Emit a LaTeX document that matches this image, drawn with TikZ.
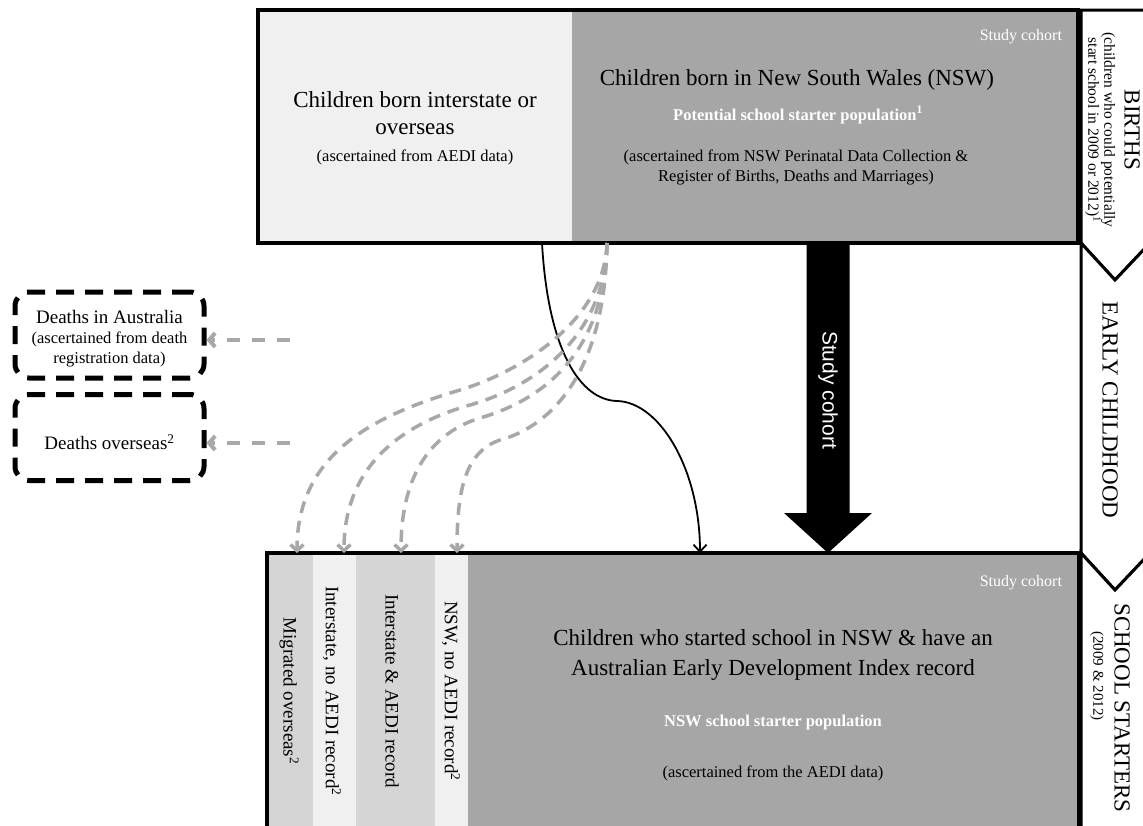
\documentclass[tikz,border=0pt]{standalone}
\usepackage{fontspec}
\setmainfont{Liberation Serif}
\newfontfamily\sansfam{Liberation Sans}
\usetikzlibrary{arrows.meta,calc}
\newcommand{\fsz}[2]{\fontsize{#1}{#2}\selectfont}
\definecolor{lightfill}{HTML}{F0F0F0}
\definecolor{darkfill}{HTML}{A6A6A6}
\definecolor{midfill}{HTML}{D5D5D5}
\definecolor{arrowgray}{HTML}{A8A8A8}
\begin{document}
\begin{tikzpicture}[x=1pt,y=-1pt,
  region/.style={draw=none, inner sep=0pt, outer sep=0pt, anchor=north west},
  frame/.style={draw=black, line width=4pt},
  panel/.style={draw=black, line width=3pt, fill=white, line join=miter},
  txt/.style={inner sep=0pt, outer sep=0pt, align=center, text=black},
  wtxt/.style={inner sep=0pt, outer sep=0pt, align=center, text=white},
  deathbox/.style={draw=black, fill=white, line width=5pt, dash pattern=on 18pt off 11pt, rounded corners=14pt, inner sep=0pt, minimum width=189pt, minimum height=86pt},
  blackconn/.style={draw=black, line width=1.8pt, -{Straight Barb[length=7pt,width=13pt]}},
  grayconn/.style={draw=arrowgray, line width=3.5pt, dash pattern=on 12pt off 8pt, -{Straight Barb[length=6pt,width=13pt]}},
  grayhconn/.style={draw=arrowgray, line width=4pt, dash pattern=on 13pt off 12pt, -{Straight Barb[length=6pt,width=14pt]}},
  rot/.style={rotate=-90}
]
\clip (0,0) rectangle (1143,825);

% right-hand stage panels
\path[panel] (1081,10) -- (1150,10) -- (1150,243) -- (1115,280) -- (1081,243) -- cycle;
\path[panel] (1081,243) -- (1115,280) -- (1150,243) -- (1150,553) -- (1115,590) -- (1081,553) -- cycle;
\path[panel] (1081,553) -- (1115,590) -- (1150,553) -- (1150,830) -- (1081,830) -- cycle;
\node[txt, rot, font={\fsz{23}{26}}] (lblBirths) at (1132,130) {BIRTHS};
\node[txt, rot, font={\fsz{15.5}{16}}] (lblBirthsSub) at (1100,130) {(children who could potentially\\start school in 2009 or 2012)\textsuperscript{1}};
\node[txt, rot, font={\fsz{23}{26}}] (lblEarly) at (1110,410) {EARLY CHILDHOOD};
\node[txt, rot, font={\fsz{23}{26}}] (lblSchool) at (1122,708) {SCHOOL STARTERS};
\node[txt, rot, font={\fsz{15}{17}}] (lblSchoolSub) at (1097,676) {(2009 \& 2012)};

% top box
\node[region, fill=lightfill, minimum width=314pt, minimum height=233pt] (bornInter) at (258,10) {};
\node[region, fill=darkfill, minimum width=506pt, minimum height=233pt] (bornNSW) at (572,10) {};
\draw[frame] (bornInter.north west) rectangle (bornNSW.south east);

\node[txt, font={\fsz{23}{27}}] (tInterA) at (415,113) {Children born interstate or\\overseas};
\node[txt, font={\fsz{16.5}{19}}] (tInterB) at (415,157) {(ascertained from AEDI data)};

\node[wtxt, anchor=east, font={\fsz{16}{18}}] (cohortTop) at (1062,37) {Study cohort};
\node[txt, font={\fsz{23}{26}}] (tNSWA) at (797,80) {Children born in New South Wales (NSW)};
\node[wtxt, font={\bfseries\fsz{16.5}{19}}] (tNSWB) at (798,115) {Potential school starter population\textsuperscript{1}};
\node[txt, font={\fsz{16.5}{20}}] (tNSWC) at (796,167) {(ascertained from NSW Perinatal Data Collection \&\\Register of Births, Deaths and Marriages)};

% bottom box
\node[region, fill=midfill, minimum width=46pt, minimum height=280pt] (col1) at (267,553) {};
\node[region, fill=lightfill, minimum width=43pt, minimum height=280pt] (col2) at (313,553) {};
\node[region, fill=midfill, minimum width=79pt, minimum height=280pt] (col3) at (356,553) {};
\node[region, fill=lightfill, minimum width=33pt, minimum height=280pt] (col4) at (435,553) {};
\node[region, fill=darkfill, minimum width=611pt, minimum height=280pt] (schoolMain) at (468,553) {};
\draw[frame] (col1.north west) rectangle (schoolMain.south east);

\node[txt, rot, font={\fsz{19}{22}}] (tCol1) at (289,691) {Migrated overseas\textsuperscript{2}};
\node[txt, rot, font={\fsz{19}{22}}] (tCol2) at (332,691) {Interstate, no AEDI record\textsuperscript{2}};
\node[txt, rot, font={\fsz{19}{22}}] (tCol3) at (392,691) {Interstate \& AEDI record};
\node[txt, rot, font={\fsz{19}{22}}] (tCol4) at (451,691) {NSW, no AEDI record\textsuperscript{2}};

\node[wtxt, anchor=east, font={\fsz{16}{18}}] (cohortBot) at (1062,583) {Study cohort};
\node[txt, font={\fsz{23}{30}}] (tSchoolA) at (773,655) {Children who started school in NSW \& have an\\Australian Early Development Index record};
\node[wtxt, font={\bfseries\fsz{16.5}{19}}] (tSchoolB) at (773,723) {NSW school starter population};
\node[txt, font={\fsz{16.5}{19}}] (tSchoolC) at (773,773) {(ascertained from the AEDI data)};

% death boxes
\node[deathbox] (dAus) at (109.5,335) {};
\node[txt, font={\fsz{19}{22}}] (dAusA) at (109.5,317) {Deaths in Australia};
\node[txt, font={\fsz{16.5}{20}}] (dAusB) at (109.5,349) {(ascertained from death\\registration data)};
\node[deathbox] (dOver) at (109.5,437.5) {};
\node[txt, font={\fsz{19}{22}}] (dOverA) at (109.5,442) {Deaths overseas\textsuperscript{2}};

% big study cohort arrow
\coordinate (cohS) at ([xshift=256pt]bornNSW.south west);
\coordinate (cohE) at ([xshift=360pt]schoolMain.north west);
\fill[black] ($(cohS)+(-21.5,0)$) -- ($(cohS)+(21.5,0)$) -- ($(cohE)+(21.5,-40)$) -- ($(cohE)+(44,-40)$) -- (cohE) -- ($(cohE)+(-44,-40)$) -- ($(cohE)+(-21.5,-40)$) -- cycle;
\node[wtxt, rot, font={\sansfam\fsz{21}{24}}] (cohortArrow) at (828,390) {Study cohort};

% black solid connector
\draw[blackconn] ([xshift=-30pt]bornInter.south east) .. controls (548,350) and (580,400) .. (617,401) .. controls (660,402) and (700,470) .. ([xshift=232pt]schoolMain.north west);

% gray dashed connectors
\coordinate (gS) at ([xshift=35pt]bornNSW.south west);
\draw[grayconn] (gS) .. controls (605,320) and (520,372) .. (460,390) .. controls (380,414) and (297,450) .. ([xshift=7pt]col1.north);
\draw[grayconn] (gS) .. controls (605,340) and (530,388) .. (470,405) .. controls (410,422) and (344,460) .. ([xshift=9.5pt]col2.north);
\draw[grayconn] (gS) .. controls (605,360) and (535,402) .. (480,418) .. controls (435,432) and (401,470) .. ([xshift=5.5pt]col3.north);
\draw[grayconn] (gS) .. controls (605,380) and (545,428) .. (500,440) .. controls (465,452) and (457,490) .. ([xshift=5.5pt]col4.north);

\coordinate (hAus) at (290,340);
\coordinate (hOver) at (290,443);
\draw[grayhconn] (hAus) -- (hAus -| dAus.east);
\draw[grayhconn] (hOver) -- (hOver -| dOver.east);
\end{tikzpicture}
\end{document}
